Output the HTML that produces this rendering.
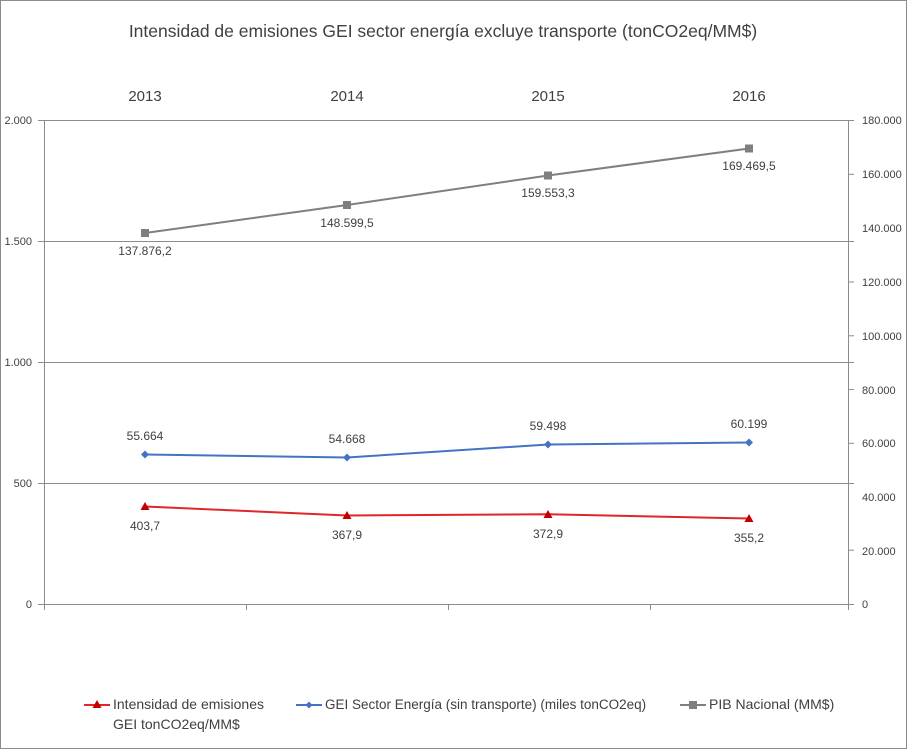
<!DOCTYPE html>
<html><head><meta charset="utf-8"><style>
body{margin:0;background:#fff}
svg{display:block;font-family:"Liberation Sans",sans-serif}
</style></head><body>
<svg width="907" height="749" viewBox="0 0 907 749">
<rect x="0.5" y="0.5" width="906" height="748" fill="#fff" stroke="#8c8c8c"/>
<text x="443" y="37" text-anchor="middle" font-size="17.5" fill="#404040">Intensidad de emisiones GEI sector energía excluye transporte  (tonCO2eq/MM$)</text>
<g font-size="15" fill="#404040" text-anchor="middle">
<text x="145" y="101">2013</text><text x="347" y="101">2014</text><text x="548" y="101">2015</text><text x="749" y="101">2016</text>
</g>
<g stroke="#8c8c8c" stroke-width="1">
<line x1="38" y1="120.5" x2="854" y2="120.5"/>
<line x1="38" y1="241.5" x2="854" y2="241.5"/>
<line x1="38" y1="362.5" x2="854" y2="362.5"/>
<line x1="38" y1="483.5" x2="854" y2="483.5"/>
<line x1="38" y1="604.5" x2="854" y2="604.5"/>
<line x1="44.5" y1="120" x2="44.5" y2="610"/>
<line x1="848.5" y1="120" x2="848.5" y2="610"/>
<line x1="246.5" y1="604" x2="246.5" y2="610"/>
<line x1="448.5" y1="604" x2="448.5" y2="610"/>
<line x1="650.5" y1="604" x2="650.5" y2="610"/>
<line x1="848" y1="174.3" x2="854" y2="174.3"/>
<line x1="848" y1="282" x2="854" y2="282"/>
<line x1="848" y1="335.8" x2="854" y2="335.8"/>
<line x1="848" y1="389.6" x2="854" y2="389.6"/>
<line x1="848" y1="443.3" x2="854" y2="443.3"/>
<line x1="848" y1="550.2" x2="854" y2="550.2"/>
</g>
<g font-size="11" fill="#404040" text-anchor="end">
<text x="32" y="124">2.000</text><text x="32" y="245">1.500</text><text x="32" y="366">1.000</text><text x="32" y="487">500</text><text x="32" y="608">0</text>
</g>
<g font-size="11" fill="#404040">
<text x="862" y="124">180.000</text><text x="862" y="178">160.000</text><text x="862" y="232">140.000</text><text x="862" y="286">120.000</text><text x="862" y="340">100.000</text><text x="862" y="394">80.000</text><text x="862" y="447">60.000</text><text x="862" y="501">40.000</text><text x="862" y="555">20.000</text><text x="862" y="608">0</text>
</g>
<polyline points="145,233 347,205 548,175.5 749,148.5" fill="none" stroke="#7f7f7f" stroke-width="2"/>
<g fill="#7f7f7f"><rect x="141" y="229" width="8" height="8"/><rect x="343" y="201" width="8" height="8"/><rect x="544" y="171.5" width="8" height="8"/><rect x="745" y="144.5" width="8" height="8"/></g>
<g font-size="12" fill="#404040" text-anchor="middle">
<text x="145" y="255">137.876,2</text><text x="347" y="227">148.599,5</text><text x="548" y="197">159.553,3</text><text x="749" y="170">169.469,5</text>
</g>
<polyline points="145,454.5 347,457.5 548,444.5 749,442.5" fill="none" stroke="#4472c4" stroke-width="2"/>
<g fill="#4472c4"><path d="M145,450.5l4,4-4,4-4-4z"/><path d="M347,453.5l4,4-4,4-4-4z"/><path d="M548,440.5l4,4-4,4-4-4z"/><path d="M749,438.5l4,4-4,4-4-4z"/></g>
<g font-size="12" fill="#404040" text-anchor="middle">
<text x="145" y="440">55.664</text><text x="347" y="443">54.668</text><text x="548" y="430">59.498</text><text x="749" y="428">60.199</text>
</g>
<polyline points="145,506.5 347,515.5 548,514.3 749,518.5" fill="none" stroke="#e0262b" stroke-width="2"/>
<g fill="#c00000"><path d="M145,502l4.5,8h-9z"/><path d="M347,511l4.5,8h-9z"/><path d="M548,510l4.5,8h-9z"/><path d="M749,514l4.5,8h-9z"/></g>
<g font-size="12" fill="#404040" text-anchor="middle">
<text x="145" y="530">403,7</text><text x="347" y="539">367,9</text><text x="548" y="538">372,9</text><text x="749" y="542">355,2</text>
</g>
<line x1="84" y1="705" x2="110" y2="705" stroke="#e0262b" stroke-width="2"/>
<path d="M97,700l4.5,8h-9z" fill="#c00000"/>
<g font-size="14" fill="#404040">
<text x="113" y="709">Intensidad de emisiones</text>
<text x="113" y="729">GEI  tonCO2eq/MM$</text>
</g>
<line x1="296" y1="705" x2="322" y2="705" stroke="#4472c4" stroke-width="2"/>
<path d="M309,701.5l3.5,3.5-3.5,3.5-3.5-3.5z" fill="#4472c4"/>
<text x="325" y="709" font-size="13.5" fill="#404040">GEI Sector Energía  (sin transporte) (miles tonCO2eq)</text>
<line x1="680" y1="705" x2="706" y2="705" stroke="#7f7f7f" stroke-width="2"/>
<rect x="689" y="701" width="8" height="8" fill="#7f7f7f"/>
<text x="709" y="709" font-size="14" fill="#404040">PIB Nacional (MM$)</text>
</svg>
</body></html>
